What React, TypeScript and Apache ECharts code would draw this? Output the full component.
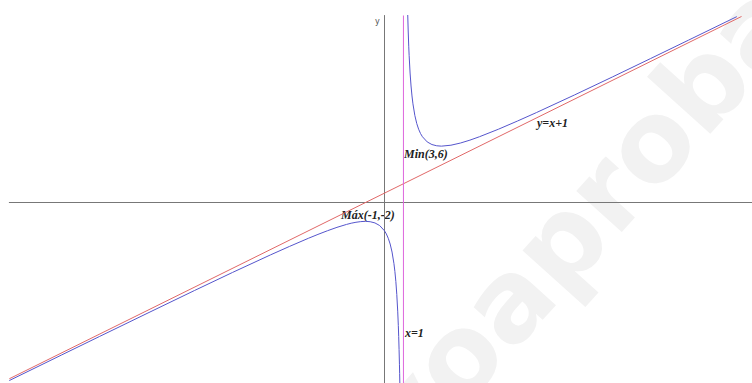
import React, { useEffect, useRef } from "react";
import * as echarts from "echarts";

// f(x) = (x^2 + 3) / (x - 1)
const leftBranch: [number, number][] = [
  [-19.75, -18.94], [-17, -16.22], [-15, -14.25], [-12.5, -11.8], [-10, -9.36],
  [-8, -7.44], [-6, -5.57], [-5, -4.67], [-4, -3.8], [-3.5, -3.39], [-3, -3.0],
  [-2.5, -2.64], [-2, -2.33], [-1.75, -2.2], [-1.5, -2.1], [-1.25, -2.03],
  [-1, -2.0], [-0.75, -2.04], [-0.5, -2.17], [-0.25, -2.45], [0, -3.0],
  [0.1, -3.34], [0.2, -3.8], [0.3, -4.41], [0.4, -5.27], [0.5, -6.5],
  [0.55, -7.34], [0.6, -8.4], [0.65, -9.78], [0.7, -11.63], [0.73, -13.08],
  [0.75, -14.25], [0.77, -15.62], [0.79, -17.26], [0.8, -18.2], [0.81, -19.24],
  [0.82, -20.4],
];
const rightBranch: [number, number][] = [
  [1.19, 23.24], [1.2, 22.2], [1.22, 20.4], [1.25, 18.25], [1.28, 16.57],
  [1.3, 15.63], [1.35, 13.78], [1.4, 12.4], [1.45, 11.34], [1.5, 10.5],
  [1.6, 9.27], [1.7, 8.41], [1.8, 7.8], [1.9, 7.34], [2, 7.0], [2.25, 6.45],
  [2.5, 6.17], [2.75, 6.04], [3, 6.0], [3.5, 6.1], [4, 6.33], [4.5, 6.64],
  [5, 7.0], [6, 7.8], [7, 8.67], [8, 9.57], [10, 11.44], [12, 13.36],
  [14, 15.31], [16, 17.27], [18.55, 19.78],
];
const obliqueAsymptote: [number, number][] = [[-19.75, -18.75], [18.8, 19.8]];
const verticalAsymptote: [number, number][] = [[1, -19.2], [1, 19.9]];
const xRange = [-19.75, 19.35];
const yRange = [-19.2, 19.9];

const labelFont = 'italic bold 12px "Liberation Serif"';

export default function App() {
  const ref = useRef<HTMLDivElement>(null);
  useEffect(() => {
    if (!ref.current) return;
    const chart = echarts.init(ref.current, undefined, { renderer: "svg" });
    const axisCommon = {
      type: "value" as const,
      axisLine: { show: true, onZero: true, lineStyle: { color: "#777", width: 1 } },
      axisTick: { show: false },
      axisLabel: { show: false },
      splitLine: { show: false },
    };
    const lineSeries = (data: [number, number][], color: string) => ({
      type: "line" as const,
      data,
      showSymbol: false,
      symbol: "none",
      clip: true,
      lineStyle: { color, width: 1 },
      silent: true,
    });
    chart.setOption({
      animation: false,
      backgroundColor: "#ffffff",
      grid: { left: 9.3, right: 0, top: 15.5, bottom: 0, containLabel: false },
      xAxis: { ...axisCommon, min: xRange[0], max: xRange[1] },
      yAxis: { ...axisCommon, min: yRange[0], max: yRange[1] },
      graphic: [
        {
          type: "text",
          x: 382,
          y: 440,
          rotation: (48 * Math.PI) / 180,
          z: -10,
          silent: true,
          style: {
            text: "yoaprobado",
            font: 'bold 112px "DejaVu Sans"',
            fill: "#f2f2f2",
            align: "left",
            verticalAlign: "middle",
          },
        },
        {
          type: "text",
          x: 375,
          y: 21,
          style: { text: "y", font: '8px "DejaVu Sans"', fill: "#555", align: "left", verticalAlign: "middle" },
        },
        {
          type: "text",
          x: 404,
          y: 154,
          style: { text: "Min(3,6)", font: labelFont, fill: "#222", align: "left", verticalAlign: "middle" },
        },
        {
          type: "text",
          x: 341,
          y: 215,
          style: { text: "Máx(-1,-2)", font: labelFont, fill: "#222", align: "left", verticalAlign: "middle" },
        },
        {
          type: "text",
          x: 537,
          y: 123,
          style: { text: "y=x+1", font: labelFont, fill: "#222", align: "left", verticalAlign: "middle" },
        },
        {
          type: "text",
          x: 405,
          y: 333,
          style: { text: "x=1", font: labelFont, fill: "#222", align: "left", verticalAlign: "middle" },
        },
      ],
      series: [
        lineSeries(obliqueAsymptote, "#e06868"),
        lineSeries(verticalAsymptote, "#dd66dd"),
        lineSeries(leftBranch, "#5555cc"),
        lineSeries(rightBranch, "#5555cc"),
      ],
    });
    return () => chart.dispose();
  }, []);
  return (
    <div
      ref={ref}
      style={{ position: "fixed", left: 0, top: 0, width: 752, height: 383, background: "#fff" }}
    />
  );
}
